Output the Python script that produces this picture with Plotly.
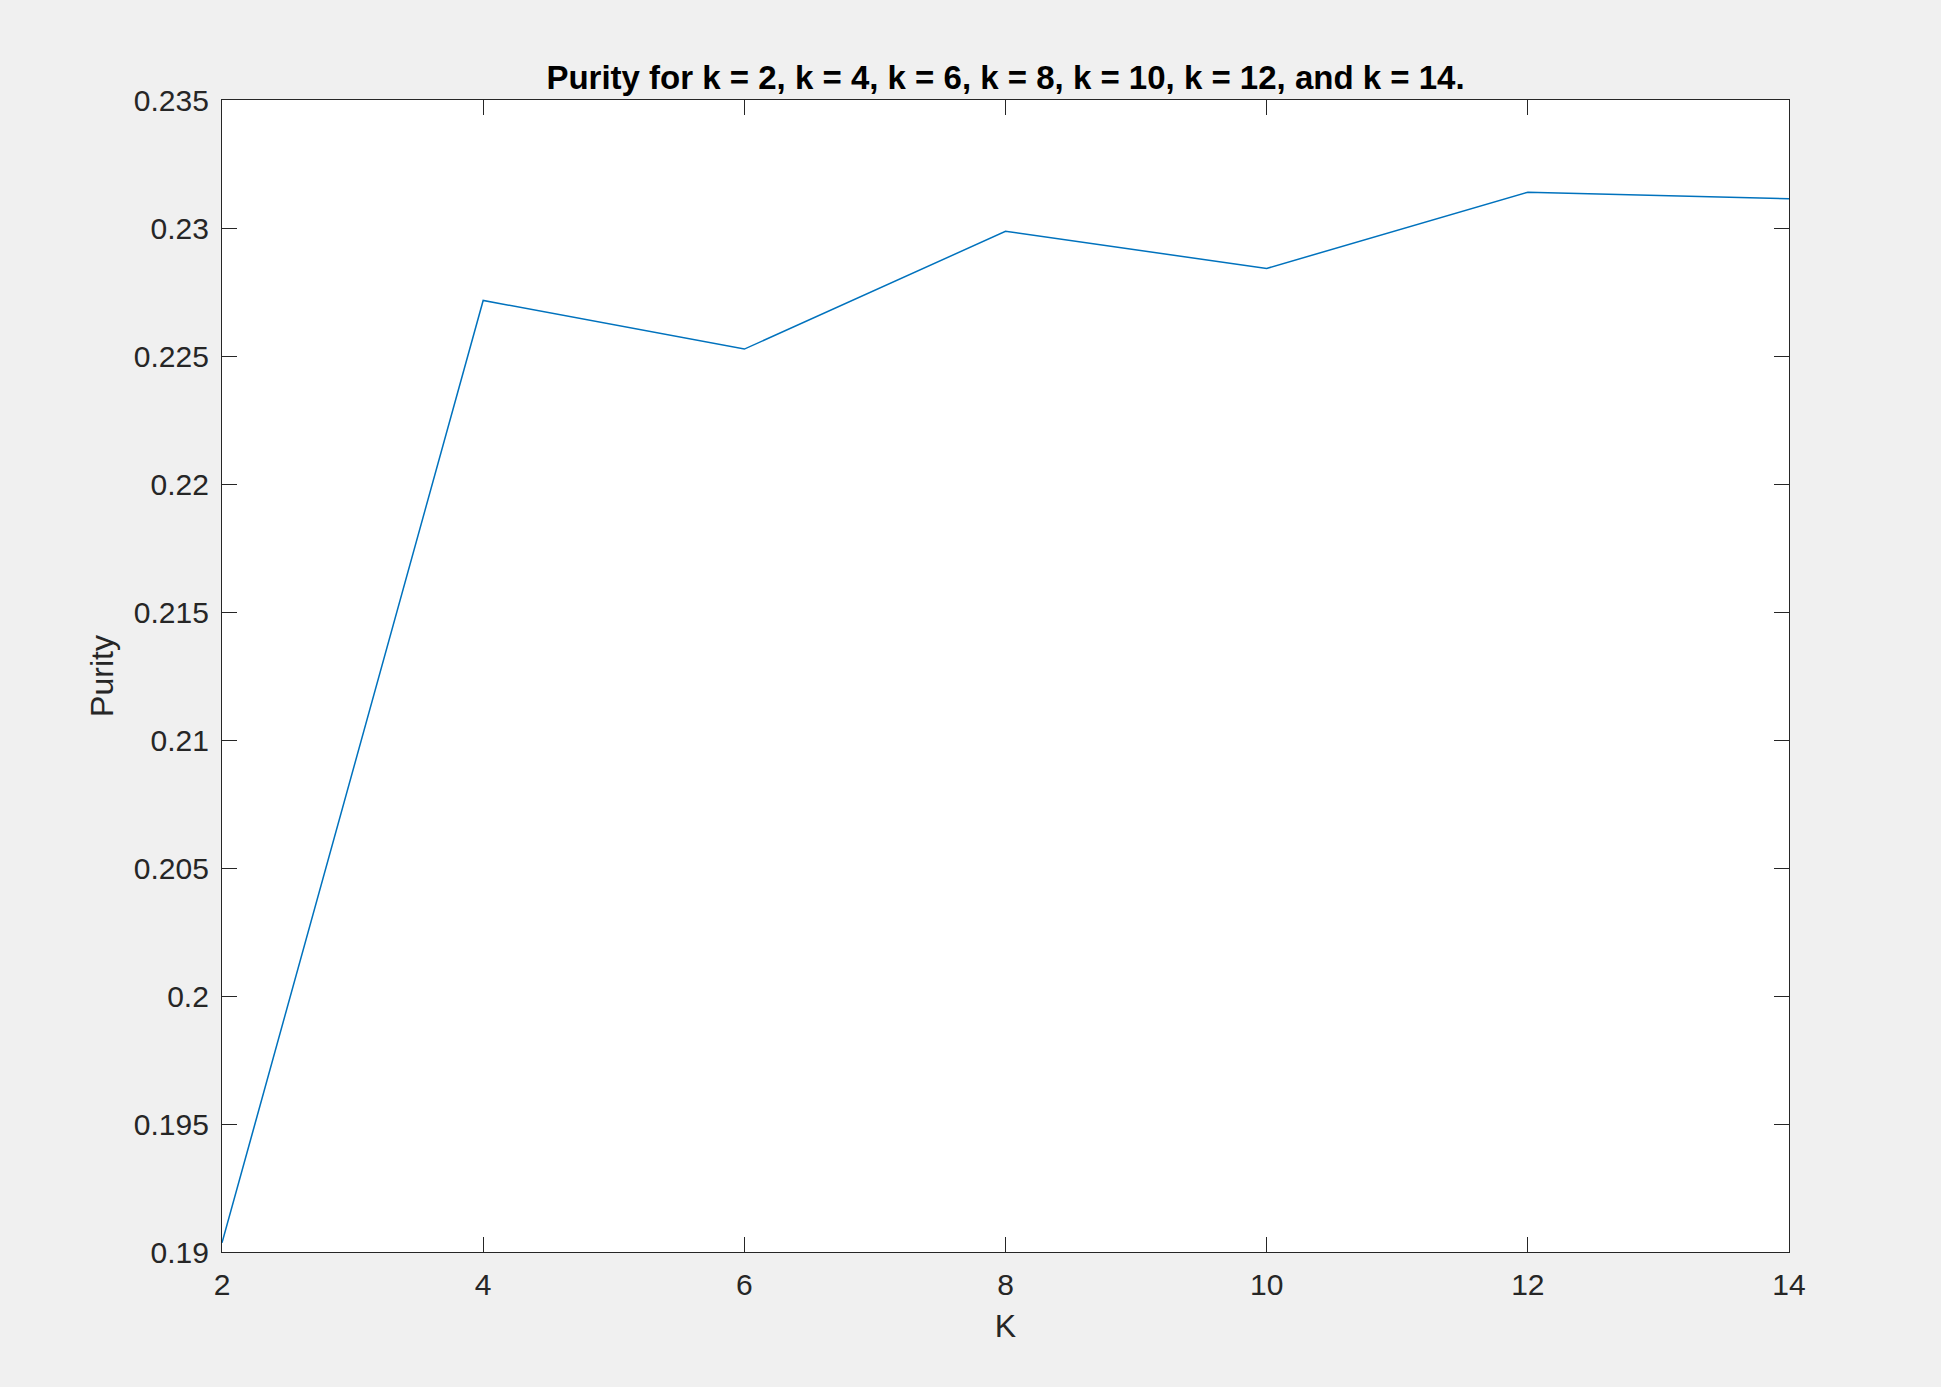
import plotly.graph_objects as go

k_values = [2, 4, 6, 8, 10, 12, 14]
purity = [0.19036, 0.22717, 0.22527, 0.22987, 0.22842, 0.23140, 0.23114]

x_ticks = [2, 4, 6, 8, 10, 12, 14]
y_ticks = [0.19, 0.195, 0.2, 0.205, 0.21, 0.215, 0.22, 0.225, 0.23, 0.235]
y_tick_labels = ["0.19", "0.195", "0.2", "0.205", "0.21", "0.215", "0.22", "0.225", "0.23", "0.235"]

title_text = "Purity for k = 2, k = 4, k = 6, k = 8, k = 10, k = 12, and k = 14."

W, H = 1941, 1387
L, R, T, B = 222, 152, 100, 135

axis_col = "#262626"
font_family = "Liberation Sans, Arial, sans-serif"

fig = go.Figure()
fig.add_trace(go.Scatter(
    x=k_values, y=purity, mode="lines",
    line=dict(color="#0072BD", width=1.5),
    showlegend=False, hoverinfo="skip",
))

common = dict(
    showgrid=False, zeroline=False,
    showline=True, linecolor=axis_col, linewidth=1.3,
    mirror="ticks", ticks="inside", ticklen=15, tickwidth=1.3, tickcolor=axis_col,
    tickfont=dict(family=font_family, size=30, color=axis_col),
)

fig.update_layout(
    width=W, height=H,
    margin=dict(l=L, r=R, t=T, b=B, autoexpand=False),
    paper_bgcolor="#f0f0f0", plot_bgcolor="#ffffff",
    title=dict(
        text="<b>" + title_text + "</b>",
        x=(L + (W - L - R) / 2) / W, xanchor="center",
        y=1 - 77 / H, yanchor="middle", yref="container",
        font=dict(family=font_family, size=33, color="#000000"),
    ),
    xaxis=dict(
        range=[2, 14], tickvals=x_ticks, ticklabelstandoff=6,
        title=dict(text="K", font=dict(family=font_family, size=32, color=axis_col), standoff=14),
        **common,
    ),
    yaxis=dict(
        range=[0.19, 0.235], tickvals=y_ticks, ticktext=y_tick_labels, ticklabelstandoff=6,
        title=dict(text="Purity", font=dict(family=font_family, size=32, color=axis_col), standoff=10),
        **common,
    ),
)

fig.write_html(
    "out.html",
    config={"displayModeBar": False},
    post_script="document.body.style.margin='0';document.body.style.padding='0';"
                "document.body.style.overflow='hidden';document.body.style.background='#f0f0f0';",
)
